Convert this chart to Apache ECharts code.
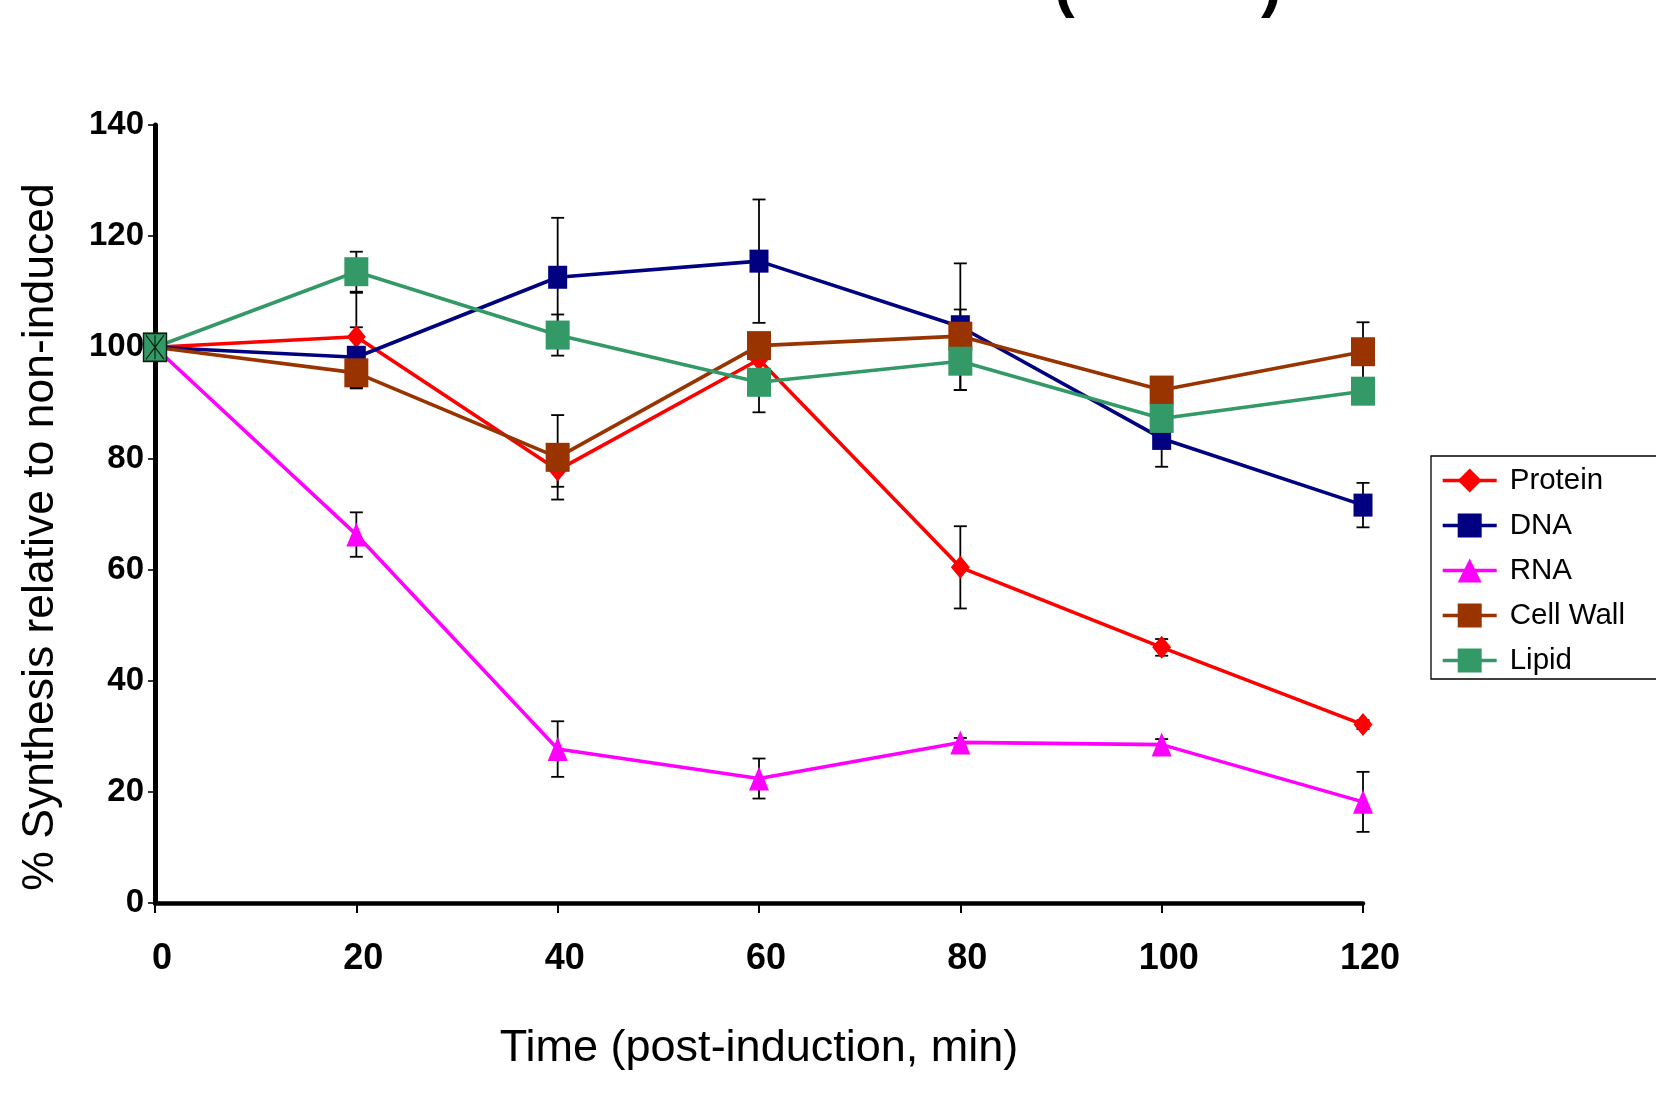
<!DOCTYPE html>
<html>
<head>
<meta charset="utf-8">
<script src="https://cdn.jsdelivr.net/npm/echarts@6/dist/echarts.min.js"></script>
<style>
html,body{margin:0;padding:0;background:#fff;}
#chart{width:1656px;height:1104px;}
</style>
</head>
<body>
<div id="chart"></div>
<script>
// ---- data ----
const times = [0, 20, 40, 60, 80, 100, 120];
const proteinValues = [100, 101.9, 77.9, 97.8, 60.4, 46.0, 32.1];
const proteinErrors = [0, 7.9, 3.0, 2.0, 7.4, 1.5, 0.8];
const dnaValues = [100, 98.2, 112.6, 115.5, 103.7, 83.6, 71.6];
const dnaErrors = [0, 5.4, 10.7, 11.1, 11.4, 5.1, 4.0];
const rnaValues = [100, 66.3, 27.7, 22.4, 28.9, 28.5, 18.2];
const rnaErrors = [0, 4.0, 5.0, 3.6, 0.8, 1.0, 5.4];
const cellWallValues = [100, 95.4, 80.2, 100.3, 102.0, 92.3, 99.2];
const cellWallErrors = [0, 2.8, 7.6, 2.0, 4.8, 2.0, 5.3];
const lipidValues = [100, 113.6, 102.2, 93.7, 97.5, 87.2, 92.1];
const lipidErrors = [0, 3.6, 3.7, 5.4, 5.2, 2.0, 2.0];
const seriesNames = ['Protein', 'DNA', 'RNA', 'Cell Wall', 'Lipid'];
const xTicks = [0, 20, 40, 60, 80, 100, 120];
const yTicks = [0, 20, 40, 60, 80, 100, 120, 140];

const FONT = '"Liberation Sans", Arial, sans-serif';

const defs = [
  {name: 'Protein', vals: proteinValues, errs: proteinErrors, color: '#FF0000', symbol: 'diamond', size: [19, 23]},
  {name: 'DNA', vals: dnaValues, errs: dnaErrors, color: '#000080', symbol: 'rect', size: [19, 23]},
  {name: 'RNA', vals: rnaValues, errs: rnaErrors, color: '#FF00FF', symbol: 'triangle', size: [20, 24]},
  {name: 'Cell Wall', vals: cellWallValues, errs: cellWallErrors, color: '#993300', symbol: 'rect', size: [24, 29]},
  {name: 'Lipid', vals: lipidValues, errs: lipidErrors, color: '#339966', symbol: 'rect', size: [24, 29]}
];

const errData = [];
defs.forEach(d => d.vals.forEach((v, i) => { if (d.errs[i] > 0) errData.push([times[i], v, d.errs[i]]); }));

const series = [{
  type: 'custom',
  name: 'errors',
  z: 1,
  silent: true,
  data: errData,
  encode: {x: 0, y: 1},
  renderItem: function (params, api) {
    const x = api.value(0), v = api.value(1), e = api.value(2);
    const top = api.coord([x, v + e]);
    const bot = api.coord([x, v - e]);
    const hw = 6.5;
    const st = {stroke: '#000', lineWidth: 1.8};
    return {
      type: 'group',
      children: [
        {type: 'line', shape: {x1: top[0], y1: top[1], x2: bot[0], y2: bot[1]}, style: st},
        {type: 'line', shape: {x1: top[0] - hw, y1: top[1], x2: top[0] + hw, y2: top[1]}, style: st},
        {type: 'line', shape: {x1: bot[0] - hw, y1: bot[1], x2: bot[0] + hw, y2: bot[1]}, style: st}
      ]
    };
  }
}];

defs.forEach(d => {
  series.push({
    type: 'line',
    name: d.name,
    z: 2,
    data: times.map((t, i) => [t, d.vals[i]]),
    symbol: d.symbol,
    symbolSize: d.size,
    showAllSymbol: true,
    lineStyle: {color: d.color, width: 3.6},
    itemStyle: {color: d.color},
    emphasis: {disabled: true},
    animation: false
  });
});

// the starting point marker (green square with black star)
series.push({
  type: 'scatter',
  name: 'start',
  z: 5,
  data: [[times[0], lipidValues[0]]],
  symbol: 'rect',
  symbolSize: [23, 28],
  itemStyle: {color: '#339966', borderColor: '#000', borderWidth: 1.6},
  silent: true
});
series.push({
  type: 'scatter',
  name: 'startStar',
  z: 6,
  data: [[times[0], lipidValues[0]]],
  symbol: 'path://M0,0L20,26M20,0L0,26M10,0L10,26',
  symbolSize: [18, 24],
  symbolKeepAspect: false,
  itemStyle: {color: 'none', borderColor: '#000', borderWidth: 1.3},
  silent: true
});

const chart = echarts.init(document.getElementById('chart'), null, {renderer: 'canvas'});
chart.setOption({
  backgroundColor: '#fff',
  animation: false,
  graphic: [
    {type: 'text', x: 1054, y: -12, style: {text: '(', font: 'bold 62px ' + FONT, fill: '#000', align: 'left', verticalAlign: 'middle'}},
    {type: 'text', x: 1261, y: -12, style: {text: ')', font: 'bold 62px ' + FONT, fill: '#000', align: 'left', verticalAlign: 'middle'}}
  ],
  grid: {left: 155, right: 293, top: 125, bottom: 201, containLabel: false},
  legend: {
    data: seriesNames,
    orient: 'vertical',
    left: 1431,
    top: 456,
    itemWidth: 54,
    itemHeight: 30,
    itemGap: 14,
    padding: [9, 80, 3, 10],
    borderColor: '#000',
    borderWidth: 1.3,
    lineStyle: {width: 3.4},
    textStyle: {fontFamily: FONT, fontSize: 29.5, color: '#000', lineHeight: 31, padding: [0, 0, 0, 8]},
    selectedMode: false
  },
  xAxis: {
    type: 'value',
    min: 0, max: 120, interval: 20,
    name: 'Time (post-induction, min)',
    nameLocation: 'middle',
    nameGap: 123,
    nameTextStyle: {fontFamily: FONT, fontSize: 45, color: '#000'},
    axisLine: {show: true, lineStyle: {color: '#000', width: 4.5}},
    axisTick: {show: true, inside: false, length: 10, lineStyle: {color: '#000', width: 2}},
    axisLabel: {fontFamily: FONT, fontSize: 36, fontWeight: 'bold', color: '#000', margin: 38, padding: [0, 0, 0, 14]},
    splitLine: {show: false}
  },
  yAxis: {
    type: 'value',
    min: 0, max: 140, interval: 20,
    name: '% Synthesis relative to non-induced',
    nameLocation: 'middle',
    nameRotate: 90,
    nameGap: 92,
    nameTextStyle: {fontFamily: FONT, fontSize: 44.5, color: '#000', padding: [0, 46, 0, 0]},
    axisLine: {show: true, lineStyle: {color: '#000', width: 5}},
    axisTick: {show: true, inside: false, length: 7, lineStyle: {color: '#000', width: 1.6}},
    axisLabel: {fontFamily: FONT, fontSize: 33, fontWeight: 'bold', color: '#000', margin: 11},
    splitLine: {show: false}
  },
  series: series
});
</script>
</body>
</html>
